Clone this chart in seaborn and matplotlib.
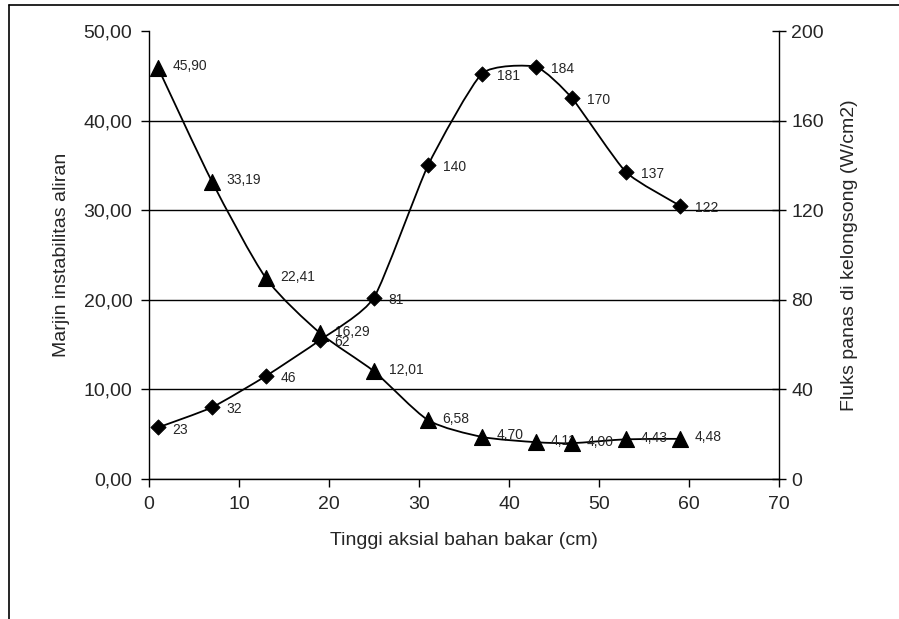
import numpy as np
import pandas as pd
import seaborn as sns
import matplotlib
matplotlib.use('Agg')
import matplotlib.pyplot as plt
from matplotlib.path import Path
from matplotlib.patches import PathPatch
from matplotlib.ticker import FuncFormatter
from matplotlib.lines import Line2D

# data
tinggi = [1, 7, 13, 19, 25, 31, 37, 43, 47, 53, 59]
marjin = [45.90, 33.19, 22.41, 16.29, 12.01, 6.58, 4.70, 4.11, 4.00, 4.43, 4.48]
fluks = [23, 32, 46, 62, 81, 140, 181, 184, 170, 137, 122]
x_ticks = [0, 10, 20, 30, 40, 50, 60, 70]
left_ticks = [0, 10, 20, 30, 40, 50]
right_ticks = [0, 40, 80, 120, 160, 200]

df = pd.DataFrame({'tinggi': tinggi, 'marjin': marjin, 'fluks': fluks})

sns.set_theme(style='white')
plt.rcParams['font.family'] = ['Liberation Sans', 'DejaVu Sans']


def smooth_path(xs, ys, k=0.12):
    # Excel-like smoothed line: cubic bezier through the data points
    pts = np.column_stack([xs, ys]).astype(float)
    n = len(pts)
    verts = [pts[0]]
    codes = [Path.MOVETO]
    for i in range(n - 1):
        p0 = pts[max(i - 1, 0)]
        p1 = pts[i]
        p2 = pts[i + 1]
        p3 = pts[min(i + 2, n - 1)]
        verts += [p1 + (p2 - p0) * k, p2 - (p3 - p1) * k, p2]
        codes += [Path.CURVE4] * 3
    return Path(verts, codes)


fig = plt.figure(figsize=(8.99, 6.19), dpi=100)
ax = fig.add_axes([149 / 899, 1 - 479 / 619, 630 / 899, 448 / 619])
ax2 = ax.twinx()

# outer chart border (top and left edges visible)
fig.add_artist(Line2D([9 / 899, 1.0], [1 - 5 / 619, 1 - 5 / 619], color='black', lw=1.2))
fig.add_artist(Line2D([9 / 899, 9 / 899], [0.0, 1 - 5 / 619], color='black', lw=1.2))

# margin series (triangles, left axis)
ax.add_patch(PathPatch(smooth_path(df['tinggi'], df['marjin']), fill=False, color='black', lw=1.3, zorder=3))
sns.scatterplot(data=df, x='tinggi', y='marjin', marker='^', s=130, color='black',
                edgecolor='black', ax=ax, zorder=4, legend=False)
for xv, yv in zip(tinggi, marjin):
    ax.annotate(f'{yv:.2f}'.replace('.', ','), (xv, yv), xytext=(10.5, 1), textcoords='offset points',
                va='center', ha='left', fontsize=10)

# heat flux series (diamonds, right axis)
ax2.add_patch(PathPatch(smooth_path(df['tinggi'], df['fluks'], k=0.09), fill=False, color='black', lw=1.3, zorder=3))
sns.scatterplot(data=df, x='tinggi', y='fluks', marker='D', s=60, color='black',
                edgecolor='black', ax=ax2, zorder=4, legend=False)
for xv, yv in zip(tinggi, fluks):
    ax2.annotate(f'{yv}', (xv, yv), xytext=(10.5, -1.5), textcoords='offset points',
                 va='center', ha='left', fontsize=10)

ax.set_xlim(0, 70)
ax.set_ylim(0, 50)
ax2.set_ylim(0, 200)
ax.set_xticks(x_ticks)
ax.set_yticks(left_ticks)
ax2.set_yticks(right_ticks)
ax.yaxis.set_major_formatter(FuncFormatter(lambda v, p: f'{v:.2f}'.replace('.', ',')))

ax.grid(axis='y', color='black', lw=1)
ax.get_ygridlines()[-1].set_visible(False)
ax.grid(axis='x', visible=False)
ax2.grid(False)

for a in (ax, ax2):
    a.spines['top'].set_visible(False)
    for s in a.spines.values():
        s.set_color('black')
        s.set_linewidth(1)
ax.spines['right'].set_visible(False)
ax2.spines['left'].set_visible(False)
ax2.spines['bottom'].set_visible(False)

ax.tick_params(axis='both', which='major', direction='out', length=6, width=1, color='black',
               labelsize=14, left=True, bottom=True, pad=6)
ax2.tick_params(axis='y', direction='inout', length=10, width=1, color='black', labelsize=14, right=True, pad=4)

ax.set_xlabel('Tinggi aksial bahan bakar (cm)', fontsize=14, labelpad=14)
ax.set_ylabel('Marjin instabilitas aliran', fontsize=14, labelpad=10)
ax2.set_ylabel('Fluks panas di kelongsong (W/cm2)', fontsize=14, labelpad=12)

ax2.set_zorder(ax.get_zorder() + 1)
ax2.patch.set_visible(False)

fig.savefig('out.png', dpi=100)
